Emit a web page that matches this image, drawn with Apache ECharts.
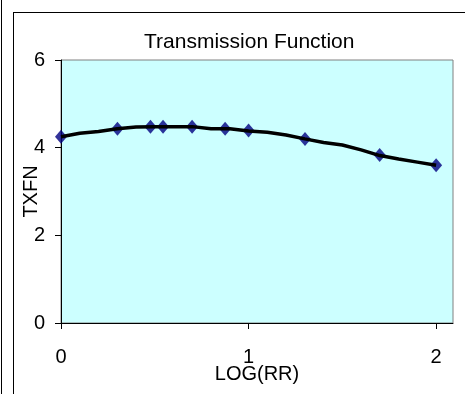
<!DOCTYPE html>
<html>
<head>
<meta charset="utf-8">
<script src="https://cdn.jsdelivr.net/npm/echarts@6/dist/echarts.min.js"></script>
<style>
  html, body { margin: 0; padding: 0; background: #fff; }
  #chart { width: 465px; height: 394px; }
</style>
</head>
<body>
<div id="chart"></div>
<script>
// Transmission function TXFN against LOG(RR)
const curveX = [0, 0.1, 0.2, 0.3, 0.4, 0.5, 0.6, 0.7, 0.8, 0.9, 1.0,
                1.1, 1.2, 1.3, 1.4, 1.5, 1.6, 1.7, 1.8, 1.9, 2.0];
const curveY = [4.25, 4.33, 4.37, 4.43, 4.47, 4.48, 4.48, 4.48, 4.43, 4.43, 4.38,
                4.35, 4.29, 4.20, 4.12, 4.06, 3.95, 3.82, 3.74, 3.67, 3.60];

// measured points
const pointX = [0, 0.301, 0.477, 0.544, 0.699, 0.875, 1.0, 1.301, 1.699, 2.0];
const pointY = [4.25, 4.43, 4.48, 4.48, 4.48, 4.43, 4.39, 4.20, 3.83, 3.60];

const xTicks = [0, 1, 2];
const yTicks = [0, 2, 4, 6];

const FONT = "'Liberation Sans', Arial, sans-serif";

const chart = echarts.init(document.getElementById('chart'), null, { renderer: 'canvas' });

chart.setOption({
  animation: false,
  backgroundColor: '#ffffff',
  title: {
    text: 'Transmission Function',
    left: 139,
    top: 27,
    textStyle: { fontFamily: FONT, fontSize: 21, fontWeight: 'normal', color: '#000' }
  },
  grid: {
    left: 61, top: 60, right: 12, bottom: 71,
    outerBoundsMode: 'none',
    containLabel: false,
    show: true,
    backgroundColor: '#CCFFFF',
    borderColor: '#808080',
    borderWidth: 1
  },
  xAxis: {
    type: 'value',
    min: 0,
    max: 2.09,
    interval: 1,
    name: 'LOG(RR)',
    nameLocation: 'middle',
    nameGap: 41,
    nameMoveOverlap: false,
    nameTextStyle: { fontFamily: FONT, fontSize: 20, color: '#000' },
    axisLine: { show: true, onZero: false, lineStyle: { color: '#000', width: 1 } },
    axisTick: { show: true, length: 6, lineStyle: { color: '#000' }, customValues: xTicks },
    axisLabel: { fontFamily: FONT, fontSize: 20, color: '#000', margin: 24, customValues: xTicks },
    splitLine: { show: false }
  },
  yAxis: {
    type: 'value',
    min: 0,
    max: 6,
    interval: 2,
    name: 'TXFN',
    nameLocation: 'middle',
    nameGap: 20,
    nameMoveOverlap: false,
    nameTextStyle: { fontFamily: FONT, fontSize: 20, color: '#000' },
    axisLine: { show: true, lineStyle: { color: '#000', width: 1 } },
    axisTick: { show: true, length: 6, lineStyle: { color: '#000' }, customValues: yTicks },
    axisLabel: { fontFamily: FONT, fontSize: 20, color: '#000', margin: 16, customValues: yTicks },
    splitLine: { show: false }
  },
  graphic: [
    { type: 'line', shape: { x1: 1.5, y1: 0, x2: 1.5, y2: 394 }, style: { stroke: '#000', lineWidth: 1 } },
    { type: 'line', shape: { x1: 13.5, y1: 12, x2: 13.5, y2: 394 }, style: { stroke: '#000', lineWidth: 1 } },
    { type: 'line', shape: { x1: 13, y1: 12.5, x2: 465, y2: 12.5 }, style: { stroke: '#000', lineWidth: 1 } }
  ],
  series: [
    {
      type: 'line',
      data: curveX.map((x, i) => [x, curveY[i]]),
      showSymbol: false,
      symbol: 'none',
      lineStyle: { color: '#000', width: 3.5 },
      z: 3
    },
    {
      type: 'scatter',
      data: pointX.map((x, i) => [x, pointY[i]]),
      symbol: 'diamond',
      symbolSize: [12, 14],
      itemStyle: { color: '#000080' },
      z: 2
    }
  ]
});
</script>
</body>
</html>
